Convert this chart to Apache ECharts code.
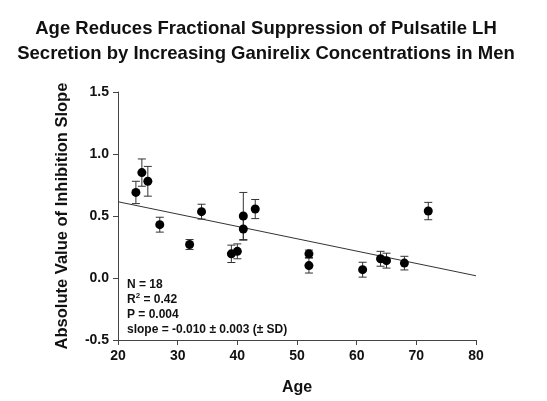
<!DOCTYPE html>
<html><head><meta charset="utf-8">
<script src="https://cdn.jsdelivr.net/npm/echarts@6/dist/echarts.min.js"></script>
<style>html,body{margin:0;padding:0;background:#fff}#c{width:547px;height:401px}</style>
</head><body><div id="c"></div>
<script>
var titleText = 'Age Reduces Fractional Suppression of Pulsatile LH\nSecretion by Increasing Ganirelix Concentrations in Men';
var xName = 'Age';
var yName = 'Absolute Value of Inhibition Slope';
var ages   = [23, 24, 25, 27, 32, 34, 39, 40, 41, 41, 43, 52, 52, 61, 64, 65, 68, 72];
var slopes = [0.69, 0.85, 0.78, 0.43, 0.27, 0.535, 0.195, 0.215, 0.50, 0.395, 0.556, 0.195, 0.10, 0.067, 0.155, 0.14, 0.12, 0.54];
var sds    = [0.09, 0.11, 0.12, 0.06, 0.04, 0.06, 0.07, 0.06, 0.19, 0.09, 0.077, 0.03, 0.06, 0.06, 0.06, 0.06, 0.055, 0.07];
var fitX = [20, 80];
var fitY = [0.615, 0.018];
var xTicks = [20, 30, 40, 50, 60, 70, 80];
var yTicks = [-0.5, 0.0, 0.5, 1.0, 1.5];
var statsLines = ['N = 18', 'R{sup|2} = 0.42', 'P = 0.004', 'slope = -0.010 \u00b1 0.003 (\u00b1 SD)'];

var pts = ages.map(function(a, i){ return [a, slopes[i]]; });
var errs = ages.map(function(a, i){ return [a, slopes[i] - sds[i], slopes[i] + sds[i]]; });
var fit = fitX.map(function(x, i){ return [x, fitY[i]]; });

var chart = echarts.init(document.getElementById('c'));
var F = 'Liberation Sans, Arial, sans-serif';
chart.setOption({
  animation: false,
  title: {
    text: titleText, left: 261, top: 11, textAlign: 'center',
    textStyle: { fontFamily: F, fontWeight: 'bold', fontSize: 18.5, lineHeight: 25, color: '#111' }
  },
  grid: { left: 118, right: 71, top: 92, bottom: 60 },
  xAxis: {
    type: 'value', min: xTicks[0], max: xTicks[xTicks.length - 1], interval: 10,
    name: xName, nameLocation: 'middle', nameGap: 40,
    nameTextStyle: { fontFamily: F, fontWeight: 'bold', fontSize: 16, color: '#111' },
    axisLine: { onZero: false, lineStyle: { color: '#444', width: 1 } },
    axisTick: { length: 5, lineStyle: { color: '#444' } },
    axisLabel: { fontFamily: F, fontWeight: 'bold', fontSize: 14, color: '#111', margin: 9 },
    splitLine: { show: false }
  },
  yAxis: {
    type: 'value', min: yTicks[0], max: yTicks[yTicks.length - 1], interval: 0.5,
    name: yName, nameLocation: 'middle', nameGap: 47,
    nameTextStyle: { fontFamily: F, fontWeight: 'bold', fontSize: 16.5, color: '#111' },
    axisLine: { show: true, onZero: false, lineStyle: { color: '#444', width: 1 } },
    axisTick: { show: true, length: 5, lineStyle: { color: '#444' } },
    axisLabel: { fontFamily: F, fontWeight: 'bold', fontSize: 14, color: '#111', margin: 9,
      formatter: function(v){ return v.toFixed(1); } },
    splitLine: { show: false }
  },
  series: [
    {
      type: 'line', data: fit, symbol: 'none', silent: true,
      lineStyle: { color: '#333', width: 1 }, z: 1
    },
    {
      type: 'custom', data: errs, z: 2, silent: true,
      renderItem: function(params, api){
        var x = api.value(0);
        var lo = api.coord([x, api.value(1)]);
        var hi = api.coord([x, api.value(2)]);
        var w = 4;
        var st = { stroke: '#333', lineWidth: 1, fill: null };
        return { type: 'group', children: [
          { type: 'line', shape: { x1: lo[0], y1: lo[1], x2: hi[0], y2: hi[1] }, style: st },
          { type: 'line', shape: { x1: lo[0]-w, y1: lo[1], x2: lo[0]+w, y2: lo[1] }, style: st },
          { type: 'line', shape: { x1: hi[0]-w, y1: hi[1], x2: hi[0]+w, y2: hi[1] }, style: st }
        ]};
      },
      encode: { x: 0, y: [1, 2] }
    },
    {
      type: 'scatter', data: pts, symbol: 'circle', symbolSize: 9, z: 3,
      itemStyle: { color: '#000', opacity: 1 }
    }
  ],
  graphic: [{
    type: 'text', left: 127, top: 277,
    style: {
      text: statsLines.join('\n'),
      font: 'bold 12px ' + F, fill: '#111', lineHeight: 15,
      rich: { sup: { font: 'bold 8px ' + F, fill: '#111', verticalAlign: 'top', lineHeight: 15, padding: [0,0,6,0] } }
    }
  }]
});
</script></body></html>
